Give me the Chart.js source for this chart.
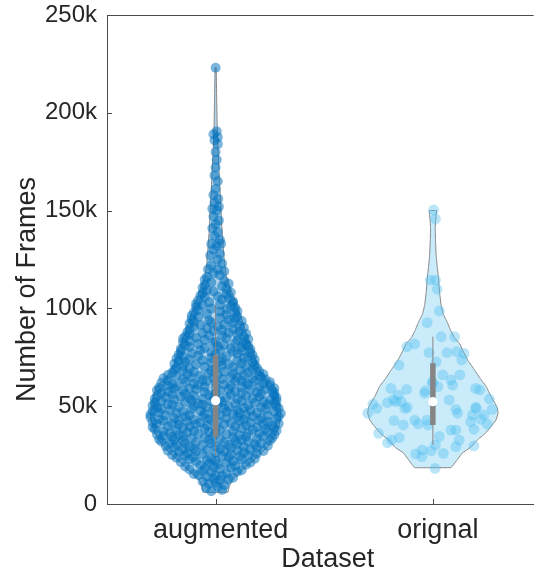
<!DOCTYPE html>
<html><head><meta charset="utf-8">
<script src="https://cdn.jsdelivr.net/npm/chart.js@4.4.0/dist/chart.umd.min.js"></script>
<style>html,body{margin:0;padding:0;background:#fff;overflow:hidden}</style>
</head><body>
<canvas id="c" width="539" height="578"></canvas>
<script>
// ---------------- DATA ----------------
const categories = ['augmented', 'orignal'];
const categoryPositions = [1, 2];
const yTickValues = [0, 50000, 100000, 150000, 200000, 250000];
const yTickLabels = ['0', '50k', '100k', '150k', '200k', '250k'];
const xAxisTitle = 'Dataset';
const yAxisTitle = 'Number of Frames';
const valueUnit = 1000; // values below are in thousands of frames

// kernel-density outline (value, relative density 0..1)
const augViolinValues  = [6, 9, 12, 14, 17, 20, 24, 29.3, 35, 39.5, 45, 49.7, 55, 60, 63, 66, 70, 75, 80, 86, 92, 98, 104, 110, 116, 123, 130, 140, 150, 160, 170, 180, 195, 210, 223];
const augViolinDensity = [0.19, 0.21, 0.25, 0.31, 0.41, 0.50, 0.64, 0.80, 0.91, 0.97, 1.0, 0.985, 0.955, 0.91, 0.80, 0.73, 0.65, 0.605, 0.56, 0.485, 0.425, 0.365, 0.30, 0.23, 0.167, 0.136, 0.12, 0.098, 0.083, 0.068, 0.053, 0.038, 0.023, 0.015, 0.008];
const origViolinValues  = [18.6, 22, 26, 29, 32.7, 36, 39.5, 43, 46.4, 49, 51.5, 55, 60, 64, 68.5, 73, 78.7, 82, 85, 89, 93, 97, 101.7, 108, 115.5, 121, 127, 134, 141, 146, 150];
const origViolinDensity = [0.28, 0.36, 0.45, 0.58, 0.68, 0.80, 0.89, 0.97, 1.0, 0.99, 0.955, 0.89, 0.82, 0.73, 0.64, 0.545, 0.455, 0.41, 0.33, 0.27, 0.22, 0.16, 0.126, 0.103, 0.086, 0.068, 0.05, 0.041, 0.035, 0.045, 0.056];

// [lower whisker, Q1, median, Q3, upper whisker]
const augStats  = [24.5, 34.4, 52.8, 76.2, 101.7];
const origStats = [30.2, 40.4, 52.3, 72.0, 85.5];

// individual samples: [value, horizontal jitter within violin]
const augPoints = [
[223,0],[190.5,0.005],[189,-0.01],[187.5,0.01],[186,-0.005],[184,0.01],[180,0],[176,0.005],[172,0],[168,-0.005],[165,0.01],[161,0],[158,-0.01],[156,0.012],[154,-0.005],[152,0.015],[151,-0.015],[150,0.005],[147,-0.01],[145,0.015],[143,0],[141,-0.015],[139,0.01],[137,-0.005],[135,0.02],[133,-0.02],[133,0.025],[132,0.005],[130,-0.01],[128,0.02],[127,-0.025],[125,0.01],[123,0.03],[122,-0.02],[120,-0.035],[120,0.01],[119,0.04],[118,-0.01],[117,0.02],[116,-0.04],
[6.5,-0.02],[7.2,0.03],[8.3,-0.045],[8.8,0.01],
[9.6,0.04],[10.4,-0.03],[10.9,0.0],
[11.5,-0.06],[12.1,0.02],[12.6,0.06],[12.9,-0.01],
[13.4,0.08],[13.9,-0.04],[14.3,0.03],[14.8,-0.08],[14.6,0.0],
[15.4,-0.1],[15.7,0.05],[16.2,-0.02],[16.5,0.1],[16.9,-0.06],
[17.3,0.12],[17.6,-0.12],[17.9,0.02],[18.3,-0.05],[18.6,0.07],[18.9,-0.01],
[19.2,-0.14],[19.5,0.09],[19.8,-0.07],[20.1,0.14],[20.4,0.01],[20.7,-0.03],[20.9,0.05],
[21.2,0.16],[21.4,-0.16],[21.7,-0.09],[21.9,0.08],[22.2,0.0],[22.5,-0.04],[22.7,0.12],[22.9,-0.12],
[23.2,0.18],[23.4,-0.02],[23.6,-0.18],[23.8,0.06],[24.0,-0.1],[24.3,0.11],[24.5,0.03],[24.7,-0.14],[24.9,0.15],
[25.1,-0.2],[25.3,0.07],[25.5,-0.06],[25.7,0.19],[25.9,-0.13],[26.1,0.0],[26.4,0.13],[26.6,-0.17],[26.8,0.04],[26.9,-0.09],
[27.1,0.22],[27.3,-0.22],[27.4,0.1],[27.6,-0.04],[27.8,0.16],[28.0,-0.15],[28.2,0.02],[28.4,-0.1],[28.6,0.07],[28.8,0.19],[28.9,-0.19],
[29.1,-0.12],[29.2,0.13],[29.4,0.0],[29.6,-0.23],[29.8,0.24],[30.0,-0.06],[30.2,0.06],[30.4,-0.18],[30.5,0.18],[30.7,0.1],[30.9,-0.02],[30.8,-0.14],
[31.1,0.21],[31.2,-0.21],[31.4,0.04],[31.6,-0.09],[31.8,0.15],[32.0,-0.25],[32.2,0.09],[32.4,-0.15],[32.5,0.25],[32.7,-0.03],[32.9,0.12],[32.8,-0.19],
[33.1,-0.26],[33.2,0.02],[33.4,0.19],[33.5,-0.11],[33.7,0.26],[33.9,-0.05],[34.1,0.08],[34.2,-0.2],[34.4,0.14],[34.6,-0.15],[34.7,0.22],[34.9,-0.01],[34.8,-0.24],
[35.1,0.11],[35.2,-0.17],[35.4,0.27],[35.5,-0.27],[35.7,0.05],[35.9,-0.08],[36.0,0.2],[36.2,-0.21],[36.4,0.0],[36.5,0.15],[36.7,-0.13],[36.9,0.24],[36.8,-0.03],
[37.1,-0.24],[37.2,0.08],[37.4,-0.1],[37.5,0.28],[37.7,-0.18],[37.9,0.17],[38.0,0.02],[38.2,-0.28],[38.4,0.23],[38.5,-0.05],[38.7,0.12],[38.9,-0.15],[38.8,0.27],
[39.1,0.0],[39.2,-0.29],[39.3,0.19],[39.5,-0.12],[39.6,0.09],[39.8,-0.22],[40.0,0.26],[40.1,-0.04],[40.3,0.14],[40.5,-0.17],[40.6,0.04],[40.8,0.22],[40.9,-0.27],[40.7,-0.09],
[41.1,0.29],[41.2,-0.2],[41.4,0.07],[41.5,-0.07],[41.7,0.16],[41.8,-0.29],[42.0,0.24],[42.2,-0.13],[42.3,0.01],[42.5,0.11],[42.6,-0.24],[42.8,0.2],[42.9,-0.02],[42.7,-0.17],
[43.1,-0.1],[43.2,0.13],[43.3,-0.26],[43.5,0.28],[43.6,-0.03],[43.8,0.05],[43.9,-0.19],[44.1,0.21],[44.3,-0.3],[44.4,0.1],[44.6,-0.14],[44.7,0.29],[44.9,-0.06],[44.8,0.17],
[45.1,0.24],[45.2,-0.23],[45.4,0.02],[45.5,-0.12],[45.7,0.14],[45.8,-0.3],[46.0,0.08],[46.1,-0.05],[46.3,0.3],[46.4,-0.18],[46.6,0.19],[46.8,-0.26],[46.9,0.0],[46.7,0.11],
[47.1,-0.15],[47.2,0.05],[47.3,0.27],[47.5,-0.29],[47.6,-0.07],[47.8,0.16],[47.9,-0.21],[48.1,0.1],[48.2,-0.01],[48.4,0.23],[48.5,-0.11],[48.7,-0.25],[48.9,0.29],[48.8,0.04],
[49.1,0.13],[49.2,-0.27],[49.4,0.21],[49.5,-0.04],[49.7,-0.17],[49.8,0.06],[50.0,0.28],[50.1,-0.1],[50.3,-0.29],[50.4,0.15],[50.6,0.01],[50.8,-0.2],[50.9,0.24],[50.7,-0.06],
[51.1,-0.22],[51.2,0.09],[51.4,-0.08],[51.5,0.27],[51.7,-0.28],[51.8,0.18],[52.0,-0.14],[52.1,0.03],[52.3,0.22],[52.4,-0.02],[52.6,-0.25],[52.7,0.12],[52.9,-0.11],[52.8,0.28],
[53.1,0.02],[53.2,0.25],[53.4,-0.19],[53.5,0.1],[53.7,-0.06],[53.8,-0.28],[54.0,0.17],[54.1,-0.12],[54.3,0.28],[54.4,0.05],[54.6,-0.23],[54.7,0.2],[54.9,-0.01],[54.8,-0.16],
[55.1,-0.27],[55.2,0.14],[55.4,-0.1],[55.6,0.27],[55.7,-0.03],[55.9,0.07],[56.0,-0.2],[56.2,0.21],[56.4,-0.14],[56.5,0.0],[56.7,0.12],[56.9,-0.25],[56.8,0.27],
[57.1,0.19],[57.2,-0.05],[57.4,-0.22],[57.5,0.09],[57.7,0.26],[57.9,-0.15],[58.0,0.02],[58.2,-0.27],[58.4,0.16],[58.5,-0.09],[58.7,0.23],[58.9,-0.19],[58.8,0.06],
[59.1,-0.12],[59.2,0.27],[59.4,0.0],[59.5,-0.26],[59.7,0.12],[59.9,-0.05],[60.0,0.2],[60.2,-0.18],[60.4,0.07],[60.5,-0.22],[60.7,0.25],[60.9,-0.08],[60.8,0.15],
[61.1,0.04],[61.2,-0.2],[61.4,0.22],[61.6,-0.1],[61.7,0.14],[61.9,-0.25],[62.1,0.0],[62.3,0.25],[62.4,-0.14],[62.6,0.09],[62.8,-0.04],[62.9,0.18],
[63.1,-0.22],[63.2,0.12],[63.4,-0.06],[63.6,0.23],[63.7,-0.15],[63.9,0.03],[64.1,0.17],[64.3,-0.24],[64.4,-0.01],[64.6,0.1],[64.8,-0.11],[64.9,0.21],
[65.1,0.07],[65.2,-0.18],[65.4,0.2],[65.6,-0.07],[65.8,0.13],[65.9,-0.22],[66.1,0.01],[66.3,0.22],[66.5,-0.13],[66.7,0.08],[66.9,-0.03],
[67.1,-0.2],[67.3,0.15],[67.5,-0.1],[67.6,0.04],[67.8,0.2],[68.0,-0.15],[68.2,-0.02],[68.4,0.11],[68.6,-0.19],[68.8,0.17],
[69.1,0.0],[69.3,-0.12],[69.5,0.19],[69.7,-0.18],[69.9,0.08],[70.2,-0.05],[70.4,0.14],[70.6,-0.15],[70.8,0.03],
[71.1,0.18],[71.3,-0.09],[71.5,0.06],[71.7,-0.19],[71.9,0.12],[72.2,-0.02],[72.4,0.17],[72.6,-0.14],[72.8,0.02],
[73.1,-0.17],[73.3,0.1],[73.5,-0.06],[73.7,0.18],[73.9,-0.12],[74.2,0.03],[74.4,-0.18],[74.6,0.13],[74.8,-0.02],
[75.1,0.15],[75.3,-0.15],[75.6,0.05],[75.8,-0.08],[76.1,0.17],[76.3,-0.17],[76.6,0.0],[76.8,0.1],
[77.1,-0.11],[77.3,0.16],[77.6,-0.02],[77.8,0.08],[78.1,-0.16],[78.3,0.12],[78.6,-0.07],[78.8,0.02],
[79.1,0.16],[79.3,-0.16],[79.6,0.07],[79.8,-0.05],[80.1,0.12],[80.3,-0.12],[80.6,0.01],[80.8,0.15],
[81.1,-0.14],[81.3,0.04],[81.6,0.14],[81.8,-0.08],[82.1,0.09],[82.3,-0.01],[82.6,-0.15],[82.8,0.13],
[83.1,0.0],[83.4,-0.12],[83.6,0.1],[83.9,-0.05],[84.2,0.15],[84.5,-0.15],[84.8,0.05],
[85.1,-0.09],[85.4,0.13],[85.6,-0.14],[85.9,0.03],[86.2,-0.03],[86.5,0.1],[86.8,-0.12],
[87.1,0.14],[87.4,-0.06],[87.6,0.06],[87.9,-0.13],[88.2,0.11],[88.5,-0.01],[88.8,0.03],
[89.2,-0.12],[89.5,0.08],[89.8,-0.04],[90.2,0.13],[90.5,-0.1],[90.8,0.01],
[91.2,0.11],[91.5,-0.07],[91.8,0.04],[92.2,-0.12],[92.5,0.08],[92.8,-0.02],
[93.2,-0.1],[93.5,0.12],[93.8,-0.03],[94.2,0.06],[94.5,-0.11],[94.8,0.09],
[95.2,0.02],[95.6,-0.08],[95.9,0.1],[96.3,-0.11],[96.7,0.05],
[97.2,-0.04],[97.6,0.09],[97.9,-0.1],[98.3,0.02],[98.7,0.1],
[99.2,-0.08],[99.6,0.05],[99.9,-0.02],[100.3,0.09],[100.7,-0.09],
[101.2,0.07],[101.6,-0.06],[101.9,0.02],[102.3,-0.09],[102.7,0.08],
[103.2,-0.03],[103.7,0.08],[104.1,-0.08],[104.6,0.03],
[105.2,0.06],[105.7,-0.05],[106.1,0.01],[106.6,-0.07],
[107.2,0.05],[107.7,-0.06],[108.1,0.07],[108.6,-0.01],
[109.3,-0.04],[109.8,0.05],[110.5,-0.06],
[111.3,0.03],[111.9,-0.05],[112.6,0.06],
[113.3,-0.02],[114,0.04],[114.7,-0.05]
];
const origPoints = [
[150.3,0.003],[145.7,0.012],[114.5,-0.012],[114.5,0.012],[109.8,0.02],[98.7,0.03],[92.7,-0.026],[85.5,0.038],[85.5,0.10],[81.8,-0.084],
[80.4,-0.12],[77.4,-0.018],[77.4,0.065],[77.9,0.11],[77.0,0.144],[73.6,0.133],[72.7,0.015],[71.0,-0.156],[66.0,0.045],[66.0,0.124],
[62.5,-0.003],[63.4,0.083],[60.8,0.091],[56.6,-0.038],[60.0,0.023],[59.1,-0.193],[58.6,-0.121],[59.1,0.197],[58.3,0.216],[55.7,-0.159],
[52.3,-0.17],[51.8,-0.209],[53.2,-0.182],[52.3,-0.144],[48.9,-0.129],[48.9,-0.258],[46.4,-0.3],[51.0,-0.276],[53.2,0.075],[53.7,0.26],
[48.4,0.106],[46.4,0.114],[48.9,0.2],[45.5,0.182],[45.5,0.235],[48.4,0.273],[42.1,0.174],[43.3,0.22],[40.9,0.25],[38.2,0.189],
[42.6,-0.179],[40.4,-0.136],[42.9,-0.084],[40.9,-0.068],[42.9,-0.027],[40.4,-0.023],[36.1,-0.25],[37.8,0.083],[37.8,0.106],[32.7,0.121],
[29.3,0.106],[31.3,-0.209],[32.7,-0.19],[33.9,-0.155],[34.6,0.03],[30.2,0.012],[29.7,0.189],[25.6,-0.079],[24.2,-0.05],[27.6,-0.049],
[27.2,-0.008],[25.9,0.048],[18.2,0.01],[61.7,0.0],[57.9,-0.035],[49.4,0.197],[49.4,-0.118]
];

// ---------------- BUILD ----------------
const VIOLIN_HALF_WIDTH = 0.3;
function violinOutline(center, vals, dens) {
  const right = vals.map((v, i) => ({x: center + dens[i] * VIOLIN_HALF_WIDTH, y: v * valueUnit}));
  const left = vals.map((v, i) => ({x: center - dens[i] * VIOLIN_HALF_WIDTH, y: v * valueUnit})).reverse();
  const pts = right.concat(left);
  pts.push({...pts[0]});
  return pts;
}
const toXY = (center, pts) => pts.map(p => ({x: center + p[1], y: p[0] * valueUnit}));
const seg = (center, a, b) => [{x: center, y: a * valueUnit}, {x: center, y: b * valueUnit}];

const GRAY = '#858585';
const series = [
  {stats: augStats, pts: augPoints, vals: augViolinValues, dens: augViolinDensity,
   fill: 'rgba(0,114,189,0.30)', dot: 'rgba(0,114,189,0.52)', r: 5},
  {stats: origStats, pts: origPoints, vals: origViolinValues, dens: origViolinDensity,
   fill: 'rgba(77,190,238,0.30)', dot: 'rgba(77,190,238,0.38)', r: 5.4}
];

const datasets = [];
series.forEach((s, i) => {
  const c = categoryPositions[i];
  datasets.push({type: 'line', data: violinOutline(c, s.vals, s.dens), showLine: true, fill: 'shape',
    backgroundColor: s.fill, borderColor: GRAY, borderWidth: 1, pointRadius: 0, tension: 0.05, order: 9});
  datasets.push({type: 'scatter', data: toXY(c, s.pts), backgroundColor: s.dot, borderWidth: 0,
    pointRadius: s.r, pointHoverRadius: s.r, order: 6});
  datasets.push({type: 'line', data: seg(c, s.stats[0], s.stats[4]), borderColor: GRAY, borderWidth: 1,
    pointRadius: 0, fill: false, order: 3});
  datasets.push({type: 'line', data: seg(c, s.stats[1], s.stats[3]), borderColor: GRAY, borderWidth: 5.5,
    borderCapStyle: 'butt', pointRadius: 0, fill: false, order: 2});
  datasets.push({type: 'scatter', data: [{x: c, y: s.stats[2] * valueUnit}], backgroundColor: '#ffffff',
    borderWidth: 0, pointRadius: 4.6, order: 1});
});

const AXIS = '#4a4a4a';
const TEXT = '#262626';
const FONT = "'Liberation Sans', Arial, Helvetica, sans-serif";
const NBSP = '\u00A0';

const frameTicks = {
  id: 'frameTicks',
  afterDraw(chart) {
    const {ctx, chartArea: a, scales: {x, y}} = chart;
    ctx.save();
    ctx.strokeStyle = AXIS; ctx.lineWidth = 1;
    ctx.beginPath();
    ctx.moveTo(a.left, a.top + 0.5); ctx.lineTo(a.right, a.top + 0.5);
    yTickValues.forEach(v => { const py = Math.round(y.getPixelForValue(v)) + 0.5; ctx.moveTo(a.left, py); ctx.lineTo(a.left + 5, py); });
    categoryPositions.forEach(v => { const px = Math.round(x.getPixelForValue(v)) + 0.5; ctx.moveTo(px, a.bottom); ctx.lineTo(px, a.bottom - 5); });
    ctx.stroke();
    ctx.restore();
  }
};

new Chart(document.getElementById('c'), {
  type: 'scatter',
  data: {datasets},
  options: {
    responsive: false, animation: false, devicePixelRatio: 1,
    layout: {padding: {top: 15, right: 0, bottom: 0, left: 0}},
    plugins: {legend: {display: false}, tooltip: {enabled: false}},
    scales: {
      x: {type: 'linear', min: 0.5, max: 2.4636,
        afterFit: s => { s.height = 74; s.paddingLeft = 0; s.paddingRight = 0; },
        afterBuildTicks: s => { s.ticks = categoryPositions.map(v => ({value: v})); },
        grid: {display: false, drawTicks: false}, border: {display: true, color: AXIS, width: 1},
        ticks: {color: TEXT, font: {family: FONT, size: 27}, padding: 10, labelOffset: 5, maxRotation: 0, autoSkip: false,
          callback: v => categories[categoryPositions.indexOf(v)]},
        title: {display: true, text: NBSP + NBSP + xAxisTitle, color: TEXT, font: {family: FONT, size: 27}, padding: {top: 0, bottom: 2}}},
      y: {type: 'linear', min: 0, max: 250000,
        afterFit: s => { s.width = 107; s.paddingTop = 0; s.paddingBottom = 0; },
        afterBuildTicks: s => { s.ticks = yTickValues.map(v => ({value: v})); },
        grid: {display: false, drawTicks: false}, border: {display: true, color: AXIS, width: 1},
        ticks: {color: TEXT, font: {family: FONT, size: 24}, padding: 10,
          callback: v => yTickLabels[yTickValues.indexOf(v)]},
        title: {display: true, text: yAxisTitle + NBSP.repeat(8), color: TEXT, font: {family: FONT, size: 27}, padding: {top: 11, bottom: 0}}}
    }
  },
  plugins: [frameTicks]
});
</script>
</body></html>
